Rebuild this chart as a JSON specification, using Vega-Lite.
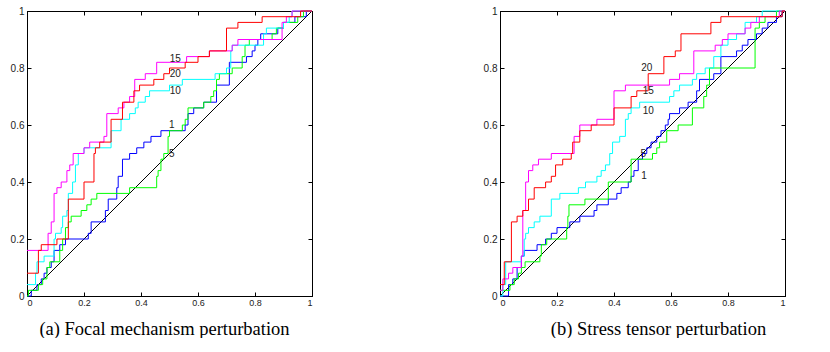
{
"$schema": "https://vega.github.io/schema/vega-lite/v6.json",
"background": "white",
"padding": {"left": 9, "top": 5, "right": 0, "bottom": 0},
"spacing": 167,
"datasets": {
"diag": [{"x":0,"y":0},{"x":1,"y":1}],
"labels": [
{"p":"a","t":"15","x":0.52,"y":0.83},{"p":"a","t":"20","x":0.52,"y":0.78},{"p":"a","t":"10","x":0.52,"y":0.72},{"p":"a","t":"1","x":0.508,"y":0.60},{"p":"a","t":"5","x":0.508,"y":0.497},
{"p":"b","t":"20","x":0.515,"y":0.80},{"p":"b","t":"15","x":0.52,"y":0.72},{"p":"b","t":"10","x":0.52,"y":0.65},{"p":"b","t":"5","x":0.503,"y":0.497},{"p":"b","t":"1","x":0.505,"y":0.42}
],
"curves": [
{"p":"a","s":"1","x":0,"y":0},{"p":"a","s":"1","x":0.015,"y":0.02},{"p":"a","s":"1","x":0.035,"y":0.04},{"p":"a","s":"1","x":0.05,"y":0.06},{"p":"a","s":"1","x":0.06,"y":0.08},{"p":"a","s":"1","x":0.07,"y":0.10},{"p":"a","s":"1","x":0.085,"y":0.12},{"p":"a","s":"1","x":0.095,"y":0.16},{"p":"a","s":"1","x":0.115,"y":0.18},{"p":"a","s":"1","x":0.135,"y":0.20},{"p":"a","s":"1","x":0.215,"y":0.22},{"p":"a","s":"1","x":0.225,"y":0.26},{"p":"a","s":"1","x":0.275,"y":0.30},{"p":"a","s":"1","x":0.285,"y":0.34},{"p":"a","s":"1","x":0.315,"y":0.38},{"p":"a","s":"1","x":0.32,"y":0.42},{"p":"a","s":"1","x":0.335,"y":0.48},{"p":"a","s":"1","x":0.36,"y":0.50},{"p":"a","s":"1","x":0.385,"y":0.52},{"p":"a","s":"1","x":0.41,"y":0.54},{"p":"a","s":"1","x":0.435,"y":0.56},{"p":"a","s":"1","x":0.47,"y":0.58},{"p":"a","s":"1","x":0.555,"y":0.60},{"p":"a","s":"1","x":0.565,"y":0.64},{"p":"a","s":"1","x":0.585,"y":0.66},{"p":"a","s":"1","x":0.62,"y":0.68},{"p":"a","s":"1","x":0.665,"y":0.74},{"p":"a","s":"1","x":0.71,"y":0.82},{"p":"a","s":"1","x":0.77,"y":0.84},{"p":"a","s":"1","x":0.79,"y":0.86},{"p":"a","s":"1","x":0.80,"y":0.88},{"p":"a","s":"1","x":0.81,"y":0.90},{"p":"a","s":"1","x":0.82,"y":0.92},{"p":"a","s":"1","x":0.88,"y":0.94},{"p":"a","s":"1","x":0.9,"y":0.96},{"p":"a","s":"1","x":0.94,"y":0.98},{"p":"a","s":"1","x":0.98,"y":1},{"p":"a","s":"1","x":1,"y":1},
{"p":"a","s":"5","x":0,"y":0},{"p":"a","s":"5","x":0.005,"y":0.02},{"p":"a","s":"5","x":0.04,"y":0.04},{"p":"a","s":"5","x":0.055,"y":0.06},{"p":"a","s":"5","x":0.07,"y":0.10},{"p":"a","s":"5","x":0.08,"y":0.12},{"p":"a","s":"5","x":0.115,"y":0.16},{"p":"a","s":"5","x":0.125,"y":0.20},{"p":"a","s":"5","x":0.135,"y":0.24},{"p":"a","s":"5","x":0.145,"y":0.26},{"p":"a","s":"5","x":0.155,"y":0.28},{"p":"a","s":"5","x":0.19,"y":0.30},{"p":"a","s":"5","x":0.21,"y":0.32},{"p":"a","s":"5","x":0.225,"y":0.34},{"p":"a","s":"5","x":0.245,"y":0.36},{"p":"a","s":"5","x":0.36,"y":0.38},{"p":"a","s":"5","x":0.455,"y":0.42},{"p":"a","s":"5","x":0.46,"y":0.44},{"p":"a","s":"5","x":0.47,"y":0.48},{"p":"a","s":"5","x":0.48,"y":0.50},{"p":"a","s":"5","x":0.495,"y":0.56},{"p":"a","s":"5","x":0.5,"y":0.58},{"p":"a","s":"5","x":0.545,"y":0.60},{"p":"a","s":"5","x":0.555,"y":0.62},{"p":"a","s":"5","x":0.565,"y":0.66},{"p":"a","s":"5","x":0.62,"y":0.68},{"p":"a","s":"5","x":0.645,"y":0.70},{"p":"a","s":"5","x":0.655,"y":0.72},{"p":"a","s":"5","x":0.665,"y":0.76},{"p":"a","s":"5","x":0.675,"y":0.78},{"p":"a","s":"5","x":0.72,"y":0.80},{"p":"a","s":"5","x":0.755,"y":0.84},{"p":"a","s":"5","x":0.765,"y":0.88},{"p":"a","s":"5","x":0.78,"y":0.90},{"p":"a","s":"5","x":0.86,"y":0.92},{"p":"a","s":"5","x":0.875,"y":0.94},{"p":"a","s":"5","x":0.9,"y":0.96},{"p":"a","s":"5","x":0.95,"y":0.98},{"p":"a","s":"5","x":0.97,"y":1},{"p":"a","s":"5","x":1,"y":1},
{"p":"a","s":"10","x":0,"y":0.04},{"p":"a","s":"10","x":0.03,"y":0.08},{"p":"a","s":"10","x":0.035,"y":0.12},{"p":"a","s":"10","x":0.06,"y":0.14},{"p":"a","s":"10","x":0.095,"y":0.20},{"p":"a","s":"10","x":0.1,"y":0.22},{"p":"a","s":"10","x":0.12,"y":0.24},{"p":"a","s":"10","x":0.125,"y":0.28},{"p":"a","s":"10","x":0.14,"y":0.30},{"p":"a","s":"10","x":0.145,"y":0.36},{"p":"a","s":"10","x":0.16,"y":0.40},{"p":"a","s":"10","x":0.17,"y":0.46},{"p":"a","s":"10","x":0.18,"y":0.50},{"p":"a","s":"10","x":0.2,"y":0.52},{"p":"a","s":"10","x":0.295,"y":0.58},{"p":"a","s":"10","x":0.33,"y":0.62},{"p":"a","s":"10","x":0.36,"y":0.64},{"p":"a","s":"10","x":0.38,"y":0.66},{"p":"a","s":"10","x":0.39,"y":0.68},{"p":"a","s":"10","x":0.415,"y":0.70},{"p":"a","s":"10","x":0.43,"y":0.72},{"p":"a","s":"10","x":0.5,"y":0.74},{"p":"a","s":"10","x":0.545,"y":0.76},{"p":"a","s":"10","x":0.66,"y":0.78},{"p":"a","s":"10","x":0.70,"y":0.80},{"p":"a","s":"10","x":0.715,"y":0.86},{"p":"a","s":"10","x":0.72,"y":0.88},{"p":"a","s":"10","x":0.83,"y":0.92},{"p":"a","s":"10","x":0.84,"y":0.94},{"p":"a","s":"10","x":0.9,"y":0.96},{"p":"a","s":"10","x":0.92,"y":0.98},{"p":"a","s":"10","x":0.93,"y":1},{"p":"a","s":"10","x":1,"y":1},
{"p":"a","s":"15","x":0,"y":0.16},{"p":"a","s":"15","x":0.074,"y":0.22},{"p":"a","s":"15","x":0.085,"y":0.26},{"p":"a","s":"15","x":0.095,"y":0.36},{"p":"a","s":"15","x":0.105,"y":0.38},{"p":"a","s":"15","x":0.12,"y":0.40},{"p":"a","s":"15","x":0.14,"y":0.44},{"p":"a","s":"15","x":0.15,"y":0.46},{"p":"a","s":"15","x":0.162,"y":0.50},{"p":"a","s":"15","x":0.2,"y":0.52},{"p":"a","s":"15","x":0.22,"y":0.54},{"p":"a","s":"15","x":0.27,"y":0.56},{"p":"a","s":"15","x":0.28,"y":0.64},{"p":"a","s":"15","x":0.32,"y":0.66},{"p":"a","s":"15","x":0.34,"y":0.68},{"p":"a","s":"15","x":0.36,"y":0.70},{"p":"a","s":"15","x":0.378,"y":0.76},{"p":"a","s":"15","x":0.415,"y":0.78},{"p":"a","s":"15","x":0.455,"y":0.82},{"p":"a","s":"15","x":0.56,"y":0.84},{"p":"a","s":"15","x":0.64,"y":0.86},{"p":"a","s":"15","x":0.72,"y":0.88},{"p":"a","s":"15","x":0.74,"y":0.90},{"p":"a","s":"15","x":0.895,"y":0.96},{"p":"a","s":"15","x":0.91,"y":0.98},{"p":"a","s":"15","x":0.93,"y":1},{"p":"a","s":"15","x":1,"y":1},
{"p":"a","s":"20","x":0,"y":0.08},{"p":"a","s":"20","x":0.04,"y":0.16},{"p":"a","s":"20","x":0.05,"y":0.18},{"p":"a","s":"20","x":0.105,"y":0.20},{"p":"a","s":"20","x":0.145,"y":0.34},{"p":"a","s":"20","x":0.2,"y":0.40},{"p":"a","s":"20","x":0.235,"y":0.50},{"p":"a","s":"20","x":0.24,"y":0.52},{"p":"a","s":"20","x":0.255,"y":0.54},{"p":"a","s":"20","x":0.295,"y":0.62},{"p":"a","s":"20","x":0.335,"y":0.68},{"p":"a","s":"20","x":0.375,"y":0.72},{"p":"a","s":"20","x":0.395,"y":0.74},{"p":"a","s":"20","x":0.445,"y":0.76},{"p":"a","s":"20","x":0.48,"y":0.78},{"p":"a","s":"20","x":0.50,"y":0.80},{"p":"a","s":"20","x":0.555,"y":0.82},{"p":"a","s":"20","x":0.60,"y":0.84},{"p":"a","s":"20","x":0.64,"y":0.86},{"p":"a","s":"20","x":0.70,"y":0.94},{"p":"a","s":"20","x":0.74,"y":0.96},{"p":"a","s":"20","x":0.825,"y":0.98},{"p":"a","s":"20","x":0.96,"y":1},{"p":"a","s":"20","x":1,"y":1},
{"p":"b","s":"1","x":0,"y":0},{"p":"b","s":"1","x":0.03,"y":0.04},{"p":"b","s":"1","x":0.045,"y":0.06},{"p":"b","s":"1","x":0.06,"y":0.10},{"p":"b","s":"1","x":0.075,"y":0.14},{"p":"b","s":"1","x":0.085,"y":0.16},{"p":"b","s":"1","x":0.13,"y":0.18},{"p":"b","s":"1","x":0.16,"y":0.20},{"p":"b","s":"1","x":0.18,"y":0.22},{"p":"b","s":"1","x":0.2,"y":0.24},{"p":"b","s":"1","x":0.245,"y":0.26},{"p":"b","s":"1","x":0.28,"y":0.28},{"p":"b","s":"1","x":0.33,"y":0.30},{"p":"b","s":"1","x":0.34,"y":0.32},{"p":"b","s":"1","x":0.38,"y":0.34},{"p":"b","s":"1","x":0.41,"y":0.36},{"p":"b","s":"1","x":0.425,"y":0.38},{"p":"b","s":"1","x":0.45,"y":0.40},{"p":"b","s":"1","x":0.46,"y":0.42},{"p":"b","s":"1","x":0.47,"y":0.44},{"p":"b","s":"1","x":0.485,"y":0.48},{"p":"b","s":"1","x":0.5,"y":0.50},{"p":"b","s":"1","x":0.515,"y":0.52},{"p":"b","s":"1","x":0.53,"y":0.54},{"p":"b","s":"1","x":0.55,"y":0.56},{"p":"b","s":"1","x":0.565,"y":0.58},{"p":"b","s":"1","x":0.58,"y":0.60},{"p":"b","s":"1","x":0.59,"y":0.62},{"p":"b","s":"1","x":0.595,"y":0.64},{"p":"b","s":"1","x":0.63,"y":0.66},{"p":"b","s":"1","x":0.66,"y":0.68},{"p":"b","s":"1","x":0.69,"y":0.72},{"p":"b","s":"1","x":0.70,"y":0.76},{"p":"b","s":"1","x":0.75,"y":0.78},{"p":"b","s":"1","x":0.775,"y":0.84},{"p":"b","s":"1","x":0.83,"y":0.86},{"p":"b","s":"1","x":0.85,"y":0.88},{"p":"b","s":"1","x":0.87,"y":0.90},{"p":"b","s":"1","x":0.9,"y":0.92},{"p":"b","s":"1","x":0.92,"y":0.94},{"p":"b","s":"1","x":0.94,"y":0.96},{"p":"b","s":"1","x":0.97,"y":0.98},{"p":"b","s":"1","x":0.99,"y":1},{"p":"b","s":"1","x":1,"y":1},
{"p":"b","s":"5","x":0,"y":0.02},{"p":"b","s":"5","x":0.035,"y":0.04},{"p":"b","s":"5","x":0.05,"y":0.06},{"p":"b","s":"5","x":0.065,"y":0.08},{"p":"b","s":"5","x":0.075,"y":0.10},{"p":"b","s":"5","x":0.088,"y":0.12},{"p":"b","s":"5","x":0.14,"y":0.14},{"p":"b","s":"5","x":0.145,"y":0.18},{"p":"b","s":"5","x":0.164,"y":0.20},{"p":"b","s":"5","x":0.234,"y":0.24},{"p":"b","s":"5","x":0.238,"y":0.28},{"p":"b","s":"5","x":0.242,"y":0.32},{"p":"b","s":"5","x":0.298,"y":0.34},{"p":"b","s":"5","x":0.38,"y":0.40},{"p":"b","s":"5","x":0.46,"y":0.48},{"p":"b","s":"5","x":0.535,"y":0.50},{"p":"b","s":"5","x":0.55,"y":0.52},{"p":"b","s":"5","x":0.56,"y":0.54},{"p":"b","s":"5","x":0.585,"y":0.58},{"p":"b","s":"5","x":0.625,"y":0.60},{"p":"b","s":"5","x":0.675,"y":0.66},{"p":"b","s":"5","x":0.715,"y":0.70},{"p":"b","s":"5","x":0.725,"y":0.74},{"p":"b","s":"5","x":0.735,"y":0.80},{"p":"b","s":"5","x":0.895,"y":0.94},{"p":"b","s":"5","x":0.91,"y":0.96},{"p":"b","s":"5","x":0.93,"y":0.98},{"p":"b","s":"5","x":0.97,"y":1},{"p":"b","s":"5","x":1,"y":1},
{"p":"b","s":"10","x":0,"y":0},{"p":"b","s":"10","x":0.01,"y":0.04},{"p":"b","s":"10","x":0.02,"y":0.12},{"p":"b","s":"10","x":0.075,"y":0.14},{"p":"b","s":"10","x":0.085,"y":0.20},{"p":"b","s":"10","x":0.09,"y":0.22},{"p":"b","s":"10","x":0.1,"y":0.24},{"p":"b","s":"10","x":0.12,"y":0.26},{"p":"b","s":"10","x":0.14,"y":0.28},{"p":"b","s":"10","x":0.18,"y":0.34},{"p":"b","s":"10","x":0.21,"y":0.36},{"p":"b","s":"10","x":0.275,"y":0.38},{"p":"b","s":"10","x":0.30,"y":0.40},{"p":"b","s":"10","x":0.34,"y":0.42},{"p":"b","s":"10","x":0.355,"y":0.44},{"p":"b","s":"10","x":0.37,"y":0.46},{"p":"b","s":"10","x":0.385,"y":0.50},{"p":"b","s":"10","x":0.395,"y":0.54},{"p":"b","s":"10","x":0.42,"y":0.56},{"p":"b","s":"10","x":0.44,"y":0.62},{"p":"b","s":"10","x":0.45,"y":0.64},{"p":"b","s":"10","x":0.46,"y":0.66},{"p":"b","s":"10","x":0.49,"y":0.68},{"p":"b","s":"10","x":0.595,"y":0.70},{"p":"b","s":"10","x":0.61,"y":0.72},{"p":"b","s":"10","x":0.63,"y":0.74},{"p":"b","s":"10","x":0.675,"y":0.76},{"p":"b","s":"10","x":0.69,"y":0.78},{"p":"b","s":"10","x":0.72,"y":0.80},{"p":"b","s":"10","x":0.75,"y":0.84},{"p":"b","s":"10","x":0.775,"y":0.88},{"p":"b","s":"10","x":0.8,"y":0.90},{"p":"b","s":"10","x":0.83,"y":0.92},{"p":"b","s":"10","x":0.86,"y":0.96},{"p":"b","s":"10","x":0.9,"y":0.98},{"p":"b","s":"10","x":0.92,"y":1},{"p":"b","s":"10","x":1,"y":1},
{"p":"b","s":"15","x":0,"y":0.02},{"p":"b","s":"15","x":0.01,"y":0.06},{"p":"b","s":"15","x":0.03,"y":0.08},{"p":"b","s":"15","x":0.045,"y":0.10},{"p":"b","s":"15","x":0.075,"y":0.14},{"p":"b","s":"15","x":0.08,"y":0.30},{"p":"b","s":"15","x":0.09,"y":0.40},{"p":"b","s":"15","x":0.1,"y":0.44},{"p":"b","s":"15","x":0.115,"y":0.46},{"p":"b","s":"15","x":0.135,"y":0.48},{"p":"b","s":"15","x":0.18,"y":0.50},{"p":"b","s":"15","x":0.26,"y":0.56},{"p":"b","s":"15","x":0.28,"y":0.60},{"p":"b","s":"15","x":0.34,"y":0.62},{"p":"b","s":"15","x":0.4,"y":0.72},{"p":"b","s":"15","x":0.44,"y":0.74},{"p":"b","s":"15","x":0.595,"y":0.76},{"p":"b","s":"15","x":0.63,"y":0.78},{"p":"b","s":"15","x":0.68,"y":0.86},{"p":"b","s":"15","x":0.755,"y":0.88},{"p":"b","s":"15","x":0.78,"y":0.90},{"p":"b","s":"15","x":0.8,"y":0.92},{"p":"b","s":"15","x":0.86,"y":0.94},{"p":"b","s":"15","x":0.88,"y":0.96},{"p":"b","s":"15","x":0.91,"y":0.98},{"p":"b","s":"15","x":0.98,"y":1},{"p":"b","s":"15","x":1,"y":1},
{"p":"b","s":"20","x":0,"y":0.04},{"p":"b","s":"20","x":0.015,"y":0.12},{"p":"b","s":"20","x":0.04,"y":0.26},{"p":"b","s":"20","x":0.06,"y":0.28},{"p":"b","s":"20","x":0.08,"y":0.30},{"p":"b","s":"20","x":0.1,"y":0.34},{"p":"b","s":"20","x":0.12,"y":0.38},{"p":"b","s":"20","x":0.16,"y":0.40},{"p":"b","s":"20","x":0.18,"y":0.42},{"p":"b","s":"20","x":0.195,"y":0.46},{"p":"b","s":"20","x":0.22,"y":0.48},{"p":"b","s":"20","x":0.25,"y":0.50},{"p":"b","s":"20","x":0.255,"y":0.54},{"p":"b","s":"20","x":0.28,"y":0.58},{"p":"b","s":"20","x":0.32,"y":0.60},{"p":"b","s":"20","x":0.4,"y":0.66},{"p":"b","s":"20","x":0.46,"y":0.70},{"p":"b","s":"20","x":0.48,"y":0.72},{"p":"b","s":"20","x":0.52,"y":0.78},{"p":"b","s":"20","x":0.575,"y":0.84},{"p":"b","s":"20","x":0.615,"y":0.86},{"p":"b","s":"20","x":0.635,"y":0.92},{"p":"b","s":"20","x":0.74,"y":0.96},{"p":"b","s":"20","x":0.775,"y":0.98},{"p":"b","s":"20","x":0.99,"y":1},{"p":"b","s":"20","x":1,"y":1}
]
},
"hconcat": [
{
"width": 285, "height": 285,
"resolve": {"axis": {"x": "independent", "y": "independent"}},
"layer": [
{"data": {"name": "diag"}, "mark": {"type": "line", "color": "black", "strokeWidth": 1},
"encoding": {
"x": {"field": "x", "type": "quantitative", "scale": {"domain": [0, 1], "nice": false}, "axis": {"orient": "top", "labels": false, "title": null, "values": [0, 0.2, 0.4, 0.6, 0.8, 1]}},
"y": {"field": "y", "type": "quantitative", "scale": {"domain": [0, 1], "nice": false}, "axis": {"orient": "right", "labels": false, "title": null, "values": [0, 0.2, 0.4, 0.6, 0.8, 1]}}}},
{"data": {"name": "curves"}, "transform": [{"filter": "datum.p == 'a'"}], "mark": {"type": "line", "interpolate": "step-after", "strokeWidth": 1},
"encoding": {
"x": {"field": "x", "type": "quantitative", "scale": {"domain": [0, 1], "nice": false}, "axis": {"orient": "bottom", "values": [0, 0.2, 0.4, 0.6, 0.8, 1], "format": "~g", "labelPadding": 6, "title": "(a) Focal mechanism perturbation", "titleFont": "Liberation Serif", "titleFontSize": 18.5, "titleFontWeight": "normal", "titleColor": "black", "titlePadding": 12, "titleX": 137, "titleAlign": "center"}},
"y": {"field": "y", "type": "quantitative", "scale": {"domain": [0, 1], "nice": false}, "axis": {"orient": "left", "values": [0, 0.2, 0.4, 0.6, 0.8, 1], "format": "~g", "labelFontSize": 10, "title": null}},
"color": {"field": "s", "type": "nominal", "scale": {"domain": ["1", "5", "10", "15", "20"], "range": ["#0000ff", "#00ff00", "#00ffff", "#ff00ff", "#ff0000"]}, "legend": null}}},
{"data": {"name": "labels"}, "transform": [{"filter": "datum.p == 'a'"}], "mark": {"type": "text", "font": "Liberation Sans", "fontSize": 10, "color": "#222"},
"encoding": {"x": {"field": "x", "type": "quantitative", "axis": null}, "y": {"field": "y", "type": "quantitative", "axis": null}, "text": {"field": "t"}}}
]
},
{
"width": 285, "height": 285,
"resolve": {"axis": {"x": "independent", "y": "independent"}},
"layer": [
{"data": {"name": "diag"}, "mark": {"type": "line", "color": "black", "strokeWidth": 1},
"encoding": {
"x": {"field": "x", "type": "quantitative", "scale": {"domain": [0, 1], "nice": false}, "axis": {"orient": "top", "labels": false, "title": null, "values": [0, 0.2, 0.4, 0.6, 0.8, 1]}},
"y": {"field": "y", "type": "quantitative", "scale": {"domain": [0, 1], "nice": false}, "axis": {"orient": "right", "labels": false, "title": null, "values": [0, 0.2, 0.4, 0.6, 0.8, 1]}}}},
{"data": {"name": "curves"}, "transform": [{"filter": "datum.p == 'b'"}], "mark": {"type": "line", "interpolate": "step-after", "strokeWidth": 1},
"encoding": {
"x": {"field": "x", "type": "quantitative", "scale": {"domain": [0, 1], "nice": false}, "axis": {"orient": "bottom", "values": [0, 0.2, 0.4, 0.6, 0.8, 1], "format": "~g", "labelPadding": 6, "title": "(b) Stress tensor perturbation", "titleFont": "Liberation Serif", "titleFontSize": 18.5, "titleFontWeight": "normal", "titleColor": "black", "titlePadding": 12, "titleX": 158, "titleAlign": "center"}},
"y": {"field": "y", "type": "quantitative", "scale": {"domain": [0, 1], "nice": false}, "axis": {"orient": "left", "values": [0, 0.2, 0.4, 0.6, 0.8, 1], "format": "~g", "labelFontSize": 10, "title": null}},
"color": {"field": "s", "type": "nominal", "scale": {"domain": ["1", "5", "10", "15", "20"], "range": ["#0000ff", "#00ff00", "#00ffff", "#ff00ff", "#ff0000"]}, "legend": null}}},
{"data": {"name": "labels"}, "transform": [{"filter": "datum.p == 'b'"}], "mark": {"type": "text", "font": "Liberation Sans", "fontSize": 10, "color": "#222"},
"encoding": {"x": {"field": "x", "type": "quantitative", "axis": null}, "y": {"field": "y", "type": "quantitative", "axis": null}, "text": {"field": "t"}}}
]
}
],
"config": {
"view": {"stroke": "black", "strokeWidth": 1},
"axis": {"grid": false, "domainColor": "black", "tickColor": "black", "tickSize": -4, "labelPadding": 7, "labelFont": "Liberation Sans", "labelFontSize": 9, "labelColor": "#222"}
}
}
